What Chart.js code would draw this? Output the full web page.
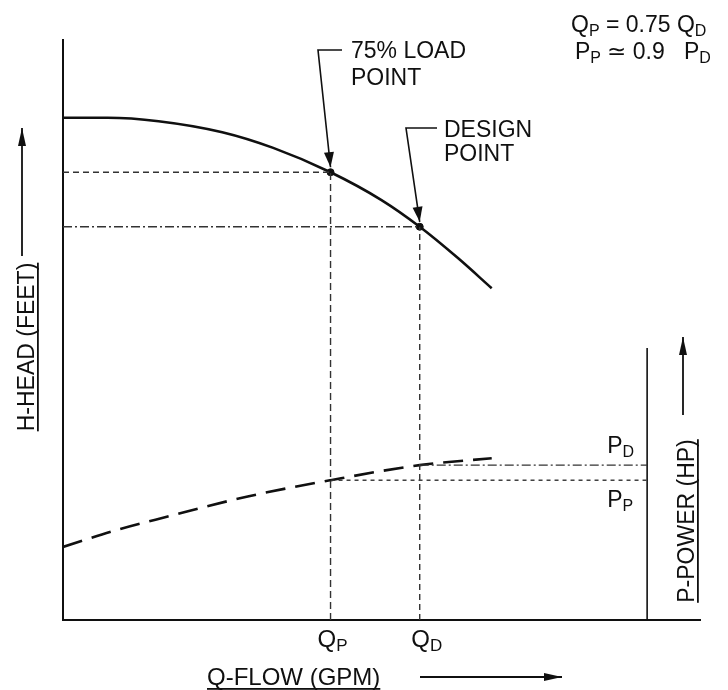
<!DOCTYPE html>
<html>
<head>
<meta charset="utf-8">
<script src="https://cdn.jsdelivr.net/npm/chart.js@4.4.1/dist/chart.umd.min.js"></script>
<style>
  body { margin: 0; background: #fff; }
  canvas { display: block; }
</style>
</head>
<body>
<canvas id="myChart" width="728" height="690"></canvas>
<script>
// head curve (flow in % of axis, head in % of axis)
const flowHead = [0, 7, 15, 25, 33, 42, 50, 56, 62, 67.3];
const head = [86.6, 86.6, 86.0, 84.1, 81.4, 77.2, 72.4, 67.8, 62.4, 57.2];

// power curve (dashed)
const flowPower = [0, 9, 16.3, 29, 42, 56, 67.3];
const power = [12.6, 15.7, 17.8, 21.3, 24.1, 26.7, 27.9];

// operating points
const qLoad = 42, qDesign = 56;
const hLoad = 77.2, hDesign = 67.8;
const pLoad = 24.1, pDesign = 26.7;

// right hand power axis
const powerAxisQ = 91.7;
const powerAxisTop = 46.9;

const fontName = '"Liberation Sans", Arial, Helvetica, sans-serif';
const ink = '#101010';

const pts = (xs, ys) => xs.map((x, i) => ({ x: x, y: ys[i] }));

const refLine = (data, dash) => ({
    data: data,
    showLine: true,
    borderColor: '#333',
    borderWidth: 1.4,
    borderDash: dash,
    pointRadius: 0,
    fill: false
});

// draws text with subscript pieces, returns the width
function subText(ctx, pieces, x, y, size) {
    let cx = x;
    pieces.forEach(p => {
        if (p.sub) {
            ctx.font = Math.round(size * 0.7) + 'px ' + fontName;
            ctx.fillText(p.t, cx, y + size * 0.18);
        } else {
            ctx.font = size + 'px ' + fontName;
            ctx.fillText(p.t, cx, y);
        }
        cx += ctx.measureText(p.t).width;
    });
    return cx - x;
}

function arrowHead(ctx, x1, y1, x2, y2, len, half) {
    const a = Math.atan2(y2 - y1, x2 - x1);
    ctx.beginPath();
    ctx.moveTo(x2, y2);
    ctx.lineTo(x2 - len * Math.cos(a) + half * Math.sin(a), y2 - len * Math.sin(a) - half * Math.cos(a));
    ctx.lineTo(x2 - len * Math.cos(a) - half * Math.sin(a), y2 - len * Math.sin(a) + half * Math.cos(a));
    ctx.closePath();
    ctx.fill();
}

function arrowLine(ctx, path, len, half) {
    ctx.beginPath();
    ctx.moveTo(path[0][0], path[0][1]);
    for (let i = 1; i < path.length; i++) ctx.lineTo(path[i][0], path[i][1]);
    ctx.stroke();
    const n = path.length;
    arrowHead(ctx, path[n - 2][0], path[n - 2][1], path[n - 1][0], path[n - 1][1], len, half);
}

function rotatedLabel(ctx, text, x, y, size, ulOffset) {
    ctx.save();
    ctx.translate(x, y);
    ctx.rotate(-Math.PI / 2);
    ctx.font = size + 'px ' + fontName;
    ctx.textAlign = 'center';
    ctx.textBaseline = 'alphabetic';
    ctx.fillText(text, 0, 0);
    const w = ctx.measureText(text).width;
    ctx.fillRect(-w / 2, ulOffset, w, 1.8);
    ctx.restore();
}

const labelsPlugin = {
    id: 'labels',
    afterDatasetsDraw(chart) {
        const ctx = chart.ctx;
        const xs = chart.scales.x, ys = chart.scales.y;
        const lx = xs.getPixelForValue(qLoad), ly = ys.getPixelForValue(hLoad);
        const dx = xs.getPixelForValue(qDesign), dy = ys.getPixelForValue(hDesign);
        const pax = xs.getPixelForValue(powerAxisQ);

        ctx.save();
        ctx.fillStyle = ink;
        ctx.strokeStyle = ink;
        ctx.lineWidth = 1.6;
        ctx.textBaseline = 'alphabetic';

        // callouts
        ctx.font = '23px ' + fontName;
        ctx.fillText('75% LOAD', 351, 58);
        ctx.fillText('POINT', 351, 85);
        arrowLine(ctx, [[342, 50], [318, 50], [lx, ly - 5]], 15, 5);

        ctx.font = '23px ' + fontName;
        ctx.fillText('DESIGN', 444, 137);
        ctx.fillText('POINT', 444, 161);
        arrowLine(ctx, [[437, 128], [406, 128], [dx, dy - 5]], 15, 5);

        // formulas top right
        subText(ctx, [{ t: 'Q' }, { t: 'P', sub: true }, { t: ' = 0.75 ' }, { t: 'Q' }, { t: 'D', sub: true }], 571, 32, 23);
        subText(ctx, [{ t: 'P' }, { t: 'P', sub: true }, { t: ' \u2243 0.9   ' }, { t: 'P' }, { t: 'D', sub: true }], 575, 59, 23);

        // flow marks under the axis
        const w1 = subText(ctx, [{ t: 'Q' }, { t: 'P', sub: true }], -100, -100, 24);
        subText(ctx, [{ t: 'Q' }, { t: 'P', sub: true }], lx - w1 / 2 + 2, 647, 24);
        const w2 = subText(ctx, [{ t: 'Q' }, { t: 'D', sub: true }], -100, -100, 24);
        subText(ctx, [{ t: 'Q' }, { t: 'D', sub: true }], dx - w2 / 2 + 7, 647, 24);

        // power marks
        subText(ctx, [{ t: 'P' }, { t: 'D', sub: true }], pax - 40, 453, 23);
        subText(ctx, [{ t: 'P' }, { t: 'P', sub: true }], pax - 40, 507, 23);

        // axis titles
        ctx.font = '24px ' + fontName;
        ctx.textAlign = 'left';
        const ft = 'Q-FLOW (GPM)';
        ctx.fillText(ft, 207, 685);
        ctx.fillRect(207, 688, ctx.measureText(ft).width, 1.8);
        ctx.lineWidth = 1.8;
        arrowLine(ctx, [[420, 677], [562, 677]], 18, 4);

        rotatedLabel(ctx, 'H-HEAD (FEET)', 34, 347, 23, 3);
        arrowLine(ctx, [[22, 256], [22, 128]], 18, 4);

        rotatedLabel(ctx, 'P-POWER (HP)', 694, 521, 23, 3);
        arrowLine(ctx, [[683, 415], [683, 337]], 18, 4);

        ctx.restore();
    }
};

const ctx = document.getElementById('myChart');

const chart = new Chart(ctx, {
    type: 'scatter',
    data: {
        datasets: [
            // reference lines
            refLine([{ x: 0, y: hLoad }, { x: qLoad, y: hLoad }], [6, 4]),
            refLine([{ x: 0, y: hDesign }, { x: qDesign, y: hDesign }], [9, 3, 2, 3]),
            refLine([{ x: qLoad, y: 0 }, { x: qLoad, y: hLoad }], [7, 4]),
            refLine([{ x: qDesign, y: 0 }, { x: qDesign, y: hDesign }], [6, 4]),
            refLine([{ x: qDesign, y: pDesign }, { x: powerAxisQ, y: pDesign }], [9, 3, 2, 3]),
            refLine([{ x: qLoad, y: pLoad }, { x: powerAxisQ, y: pLoad }], [4, 4]),
            {
                // power axis line
                data: [{ x: powerAxisQ, y: 0 }, { x: powerAxisQ, y: powerAxisTop }],
                showLine: true,
                borderColor: ink,
                borderWidth: 1.6,
                pointRadius: 0
            },
            {
                data: pts(flowHead, head),
                showLine: true,
                borderColor: ink,
                borderWidth: 2.6,
                cubicInterpolationMode: 'monotone',
                pointRadius: 0
            },
            {
                data: pts(flowPower, power),
                showLine: true,
                borderColor: ink,
                borderWidth: 2.6,
                borderDash: [20, 10],
                cubicInterpolationMode: 'monotone',
                pointRadius: 0
            },
            {
                data: [{ x: qLoad, y: hLoad }, { x: qDesign, y: hDesign }],
                showLine: false,
                pointRadius: 3.5,
                pointBackgroundColor: ink,
                pointBorderColor: ink
            }
        ]
    },
    options: {
        responsive: false,
        animation: false,
        devicePixelRatio: 1,
        layout: { padding: { left: 63, top: 40, right: 28, bottom: 70 } },
        plugins: {
            legend: { display: false },
            tooltip: { enabled: false }
        },
        scales: {
            x: {
                type: 'linear',
                min: 0,
                max: 100,
                ticks: { display: false },
                grid: { display: false, drawTicks: false },
                border: { display: true, color: ink, width: 2 }
            },
            y: {
                type: 'linear',
                min: 0,
                max: 100,
                ticks: { display: false },
                grid: { display: false, drawTicks: false },
                border: { display: true, color: ink, width: 2 }
            }
        }
    },
    plugins: [labelsPlugin]
});
</script>
</body>
</html>
